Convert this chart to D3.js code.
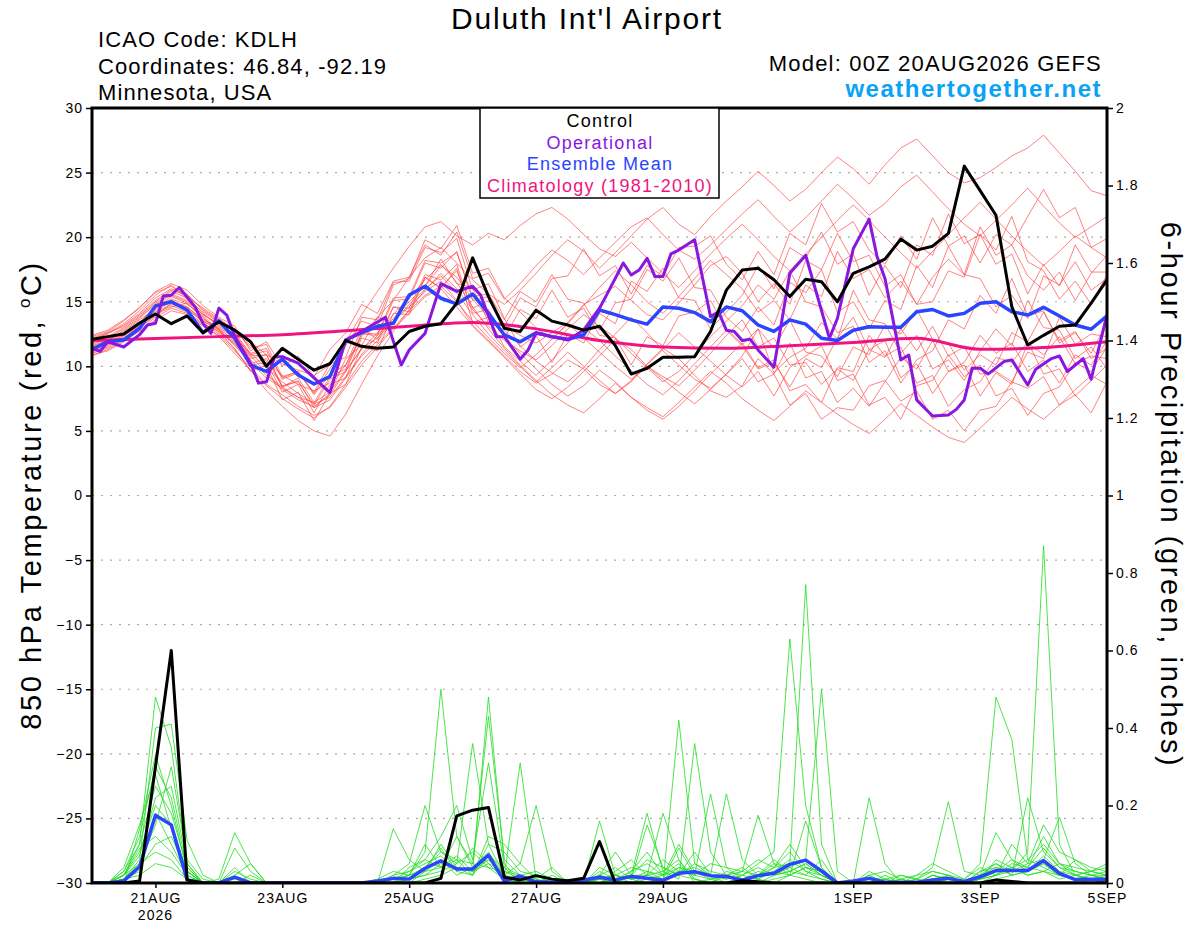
<!DOCTYPE html>
<meta charset="utf-8">
<script src="https://d3js.org/d3.v7.min.js"></script>
<style>
  body { margin: 0; background: #fff; }
  text { font-family: "Liberation Sans", Arial, Helvetica, sans-serif; }
</style>
<div id="chart"></div>
<script>

// ---- data (6-hourly steps from 00Z 20AUG2026 unless noted) ----
var stepHours = d3.range(0, 385, 6);

var controlTemp = [12.1,12.3,12.5,13.35,14.05,13.3,13.9,12.6,13.45,12.8,11.9,10.0,11.4,10.55,9.7,10.2,12.0,11.55,11.4,11.5,12.7,13.1,13.3,14.9,18.4,15.4,12.95,12.7,14.35,13.5,13.2,12.8,13.1,11.6,9.4,9.85,10.7,10.7,10.75,12.7,15.9,17.45,17.6,16.7,15.4,16.75,16.55,15.0,17.2,17.7,18.3,19.85,19.0,19.3,20.3,25.5,23.6,21.7,14.6,11.65,12.4,13.1,13.2,14.9,16.7];
var meanTemp = [11.3,11.9,12.04,12.95,14.67,15.0,14.36,12.6,13.53,12.17,10.1,9.6,10.55,9.33,8.63,9.2,12.04,12.6,13.1,13.33,15.52,16.2,15.27,14.83,15.6,14.1,12.43,11.9,12.6,12.3,12.1,12.43,14.36,14.0,13.6,13.27,14.6,14.5,14.16,13.46,14.6,14.3,13.2,12.7,13.6,13.27,12.17,12.0,12.8,13.07,13.02,13.02,14.23,14.4,13.9,14.1,14.88,15.0,14.23,13.97,14.57,13.9,13.2,12.87,13.9];

// operational run has its own output hours
var opHours = [0,3,6,12,18,21,24,27,30,33,39,42,45,48,51,54,60,63,66,69,72,78,84,90,96,102,111,117,120,126,132,138,144,147,153,156,162,165,168,174,180,186,192,195,201,204,207,210,213,216,219,222,228,234,237,240,243,246,249,252,258,264,270,279,282,288,294,297,300,306,309,312,318,324,327,330,333,336,339,345,348,354,357,363,366,369,375,378,384];
var opTemp = [11.4,11.15,11.9,11.5,12.45,13.2,13.33,15.45,15.5,16.1,14.6,13.33,12.55,14.5,13.97,12.3,10.24,8.7,8.8,10.75,10.75,10.24,9.1,7.97,12.04,12.7,13.8,10.1,11.27,12.55,16.4,15.8,16.2,15.52,12.3,12.3,10.55,11.27,12.55,12.3,12.04,12.8,14.5,15.65,18.0,17.07,17.46,18.36,16.95,16.95,18.7,19.0,19.8,13.85,14.23,12.8,12.7,12.0,12.1,11.27,9.93,17.2,18.6,12.17,13.7,19.1,21.4,18.5,16.8,10.5,10.88,7.4,6.16,6.23,6.67,7.4,9.85,9.85,9.4,10.37,10.5,8.55,9.77,10.6,10.8,9.6,10.6,9.0,14.0];

// climatology, one value per day
var climHours = [0,24,48,72,96,120,144,168,192,216,240,264,288,312,336,360,384];
var climTemp = [12.0,12.15,12.3,12.45,12.75,13.1,13.4,12.9,12.0,11.5,11.4,11.6,11.85,12.17,11.32,11.45,11.9];

var controlPrecip = [0,0,0,0.005,0.3,0.6,0.008,0,0,0,0,0,0,0,0,0,0,0,0,0,0,0,0.012,0.173,0.188,0.195,0.015,0.008,0.019,0.01,0.006,0.012,0.107,0,0,0,0,0,0,0,0,0.006,0.003,0,0,0,0,0,0,0,0,0,0,0,0,0,0,0.008,0.004,0,0,0,0,0,0];
var meanPrecip = [0,0,0.005,0.042,0.175,0.15,0.008,0,0,0.015,0,0,0,0,0,0,0,0,0.005,0.012,0.01,0.038,0.057,0.036,0.036,0.072,0.005,0.018,0.003,0.002,0,0.008,0.015,0.008,0.017,0.012,0.007,0.025,0.029,0.019,0.017,0.007,0.019,0.025,0.048,0.059,0.031,0,0.005,0.012,0.002,0.002,0.002,0.008,0.012,0.004,0.016,0.032,0.032,0.032,0.058,0.025,0.009,0.01,0.01];

// ensemble members, 850 hPa temperature
var tm01 = [11.8,12.2,12.9,13.8,14.9,15.6,15.1,14.0,13.2, 12.5,10.9,11.2,9.1,9.6,7.8,9.4,10.1, 12.9,12.1,14.6,14.2,16.9,16.1,17.4,14.5,15.1, 13.2,12.4,11.8,12.6,13.4,14.8,15.5,16.2,15.1,14.0,13.6,14.9,16.3,17.8,18.5, 17.2,15.0,16.4,14.8,18.2,17.5,20.3,18.1,18.6,16.2,17.1,14.8,15.0,17.4,16.9,20.2,19.0,21.6,18.1,17.4,15.2,16.6,14.8,17.1];
var tm02 = [11.2,11.6,12.4,13.1,14.2,14.8,14.4,13.5,12.9, 12.0,10.8,9.5,8.2,7.4,6.9,7.8,9.6, 11.4,12.2,13.5,14.6,15.8,16.6,15.1,13.2,12.0, 10.8,9.6,8.7,9.4,10.5,9.8,8.6,7.9,8.8,10.2,11.4,10.6,9.3,8.1,7.6, 8.5,10.6,9.4,11.8,9.1,9.6,7.2,8.3,6.9,8.8,10.7,9.8,12.0,9.6,10.1,7.7,9.5,8.6,11.8,10.9,12.3,10.2,10.8,10.6];
var tm03 = [12.4,12.8,13.6,14.5,15.8,16.4,15.9,14.7,13.8, 13.1,11.2,11.9,10.0,10.8,9.2,11.3,12.6, 14.8,14.1,16.6,16.9,19.4,18.6,20.4,16.8,17.2, 15.2,16.4,17.8,19.0,18.2,17.1,18.4,19.6,20.8,21.5,20.2,19.0,18.3,19.4,20.6, 21.8,22.9,21.6,20.4,21.5,22.8,24.1,23.0,21.7,22.6,23.9,24.8,23.5,22.2,21.0,20.1,21.3,22.5,23.8,22.4,21.1,20.0,20.8,21.6];
var tm04 = [10.8,11.3,12.0,12.7,13.6,14.3,14.0,13.1,12.4, 11.2,9.9,8.6,7.8,6.9,6.2,6.8,8.4, 10.1,11.5,12.9,14.1,15.4,16.0,14.6,13.1,11.9, 10.7,9.4,8.2,7.5,8.4,9.6,10.8,12.1,11.3,10.0,9.2,8.5,9.7,11.0,12.4, 13.6,11.5,12.2,10.1,10.3,8.6,9.8,8.9,11.3,10.7,12.9,11.2,13.1,10.8,11.5,9.4,9.6,8.8,11.1,10.6,13.8,11.7,12.5,12.3];
var tm05 = [11.5,12.0,12.6,13.4,14.6,15.2,14.8,13.9,12.8, 11.3,9.7,8.1,6.9,5.8,5.0,4.6,6.3, 8.6,10.8,12.7,14.4,15.9,17.2,16.0,14.4,13.1, 12.0,11.2,10.5,11.6,12.9,14.0,13.1,12.2,11.0,9.9,8.8,9.6,10.9,12.3,13.5, 14.7,16.3,15.2,17.4,15.0,14.6,12.6,13.1,10.3,11.2,8.7,10.5,11.2,13.6,12.9,15.5,14.1,16.8,13.9,14.3,11.8,12.6,11.0,13.4];
var tm06 = [12.1,12.5,13.2,14.1,15.3,16.0,15.6,14.3,13.5, 12.7,11.6,10.4,9.3,8.6,8.1,8.7,10.1, 12.3,13.8,15.1,16.9,18.4,19.2,18.0,16.7,15.6, 14.8,15.9,17.2,18.6,19.8,18.9,17.6,18.8,20.1,21.4,22.3,21.0,20.2,21.6,22.8, 23.9,25.1,24.0,22.8,23.7,25.0,26.2,25.3,24.1,25.6,26.9,27.6,26.3,25.0,24.2,24.6,25.4,26.3,26.9,27.9,26.5,25.1,23.6,23.2];
var tm07 = [11.0,11.4,12.1,13.0,14.0,14.6,14.9,13.8,12.6, 11.8,10.2,10.6,8.4,8.9,6.8,7.9,10.6, 11.6,13.8,13.4,15.6,16.2,18.3,16.4,16.1,13.4, 12.8,11.6,10.4,9.5,8.8,9.9,11.3,12.5,13.8,12.6,11.2,10.1,9.0,8.3,9.4, 10.8,12.9,11.4,13.6,11.1,10.8,9.2,11.5,10.9,13.2,12.5,14.4,12.1,11.8,9.7,10.9,10.1,12.6,11.9,14.2,12.0,12.7,10.6,11.4];
var tm08 = [11.7,12.1,12.7,13.6,14.4,15.1,14.6,13.6,13.0, 12.2,11.0,9.9,8.8,7.9,7.1,7.6,9.2, 10.9,12.4,13.7,15.0,16.2,17.8,16.9,15.2,13.8, 12.3,11.0,9.8,8.6,7.7,8.5,9.7,8.8,7.6,6.8,6.1,7.2,8.4,9.6,8.7, 7.5,6.6,5.8,6.9,8.1,7.2,6.3,5.5,4.8,5.9,7.1,6.2,5.3,4.5,4.1,5.2,6.4,7.6,6.7,5.9,7.0,8.2,9.3,8.6];
var tm09 = [12.0,12.6,13.3,14.3,15.5,16.3,15.2,14.2,13.4, 12.9,11.4,11.7,9.2,9.6,7.9,9.8,11.6, 13.5,13.1,16.3,16.8,19.8,19.1,20.9,17.2,17.6, 15.3,14.2,13.0,12.1,13.3,14.7,16.1,17.4,16.3,15.0,14.1,15.4,16.8,18.2,17.1, 16.0,14.2,15.1,13.6,16.3,15.4,18.9,16.8,17.5,15.3,16.6,14.8,16.9,18.3,17.1,20.8,18.6,19.4,17.0,15.9,17.3,15.1,17.2,18.6];
var tm10 = [11.4,11.9,12.5,13.3,14.1,14.7,14.2,13.3,12.7, 11.9,10.1,10.3,8.0,8.6,6.4,8.6,9.1, 12.2,11.8,14.6,14.5,17.1,16.7,17.9,14.1,14.4, 12.2,14.4,13.7,15.9,13.8,14.5,12.4,12.2,10.1,12.3,11.6,13.9,14.2,15.1,12.9, 11.7,12.9,9.5,10.7,11.4,13.4,12.1,15.9,13.6,13.3,11.0,12.4,9.8,10.5,8.9,11.2,12.9,11.6,15.1,13.0,12.8,10.6,11.5,9.8];
var tm11 = [12.3,12.7,13.5,14.6,15.7,16.2,15.4,14.5,13.7, 12.8,11.9,10.9,10.2,9.7,9.3,10.1,11.9, 14.0,15.8,17.6,19.3,20.8,21.2,20.1,19.4,20.3, 19.8,20.9,21.8,22.3,21.4,20.2,19.1,18.5,19.6,18.4,17.2,16.1,17.4,18.7,19.9, 21.0,19.8,18.5,17.4,18.7,20.0,21.3,22.5,21.3,20.0,18.8,17.6,18.9,20.2,21.5,22.7,21.4,20.1,18.9,17.8,18.9,20.1,19.2,18.4];
var tm12 = [11.1,11.5,12.3,13.2,14.3,15.0,14.5,13.4,12.5, 11.4,9.6,10.1,7.4,8.0,5.8,7.9,8.6, 11.5,11.2,14.1,14.0,16.9,16.0,17.6,13.4,13.8, 11.5,10.4,9.3,10.5,11.8,13.0,12.0,10.8,9.7,8.6,7.8,8.9,10.2,11.5,12.8, 11.6,9.8,10.3,8.4,10.6,9.9,12.2,13.8,11.3,12.0,9.1,10.2,7.9,9.6,10.3,12.4,11.0,11.8,9.6,10.5,8.7,10.9,10.1,12.0];
var tm13 = [11.9,12.3,13.0,13.9,15.0,15.8,15.3,14.1,13.1, 12.3,10.6,10.9,8.4,9.1,7.2,9.2,9.8, 12.6,12.5,15.3,15.4,18.2,18.0,18.8,15.4,15.6, 13.6,15.8,15.0,17.1,15.2,14.9,12.8,14.9,15.2,17.5,16.6,18.4,16.1,15.9,13.8, 12.7,14.6,13.2,16.5,15.7,17.5,14.2,15.0,12.9,15.1,14.4,17.8,16.1,19.3,17.1,16.8,14.6,15.5,13.7,17.0,16.3,18.1,15.9,16.8];
var tm14 = [11.3,11.8,12.4,13.2,14.5,15.4,14.9,13.7,12.9, 11.6,10.3,9.1,8.3,7.6,7.2,8.0,9.7, 11.3,12.6,14.0,15.3,16.7,17.9,16.5,14.6,12.9, 11.4,10.1,8.9,7.8,7.0,6.4,7.5,8.7,7.6,6.6,5.9,6.9,8.1,9.4,10.6, 11.8,9.9,10.5,8.1,8.6,7.2,9.9,9.6,12.4,10.8,11.5,8.7,9.3,6.9,8.2,8.8,10.7,10.3,11.9,9.4,9.8,7.7,8.9,10.1];
var tm15 = [12.2,12.6,13.1,14.0,15.1,15.9,15.5,14.4,13.6, 12.6,11.0,11.4,9.0,9.5,8.0,10.2,10.7, 13.8,13.6,16.5,16.6,19.2,18.8,19.9,15.9,16.4, 13.7,11.5,12.4,10.3,12.5,11.8,14.1,13.3,16.6,15.8,17.6,15.3,15.1,12.9,14.2, 15.5,17.8,16.0,19.2,18.4,20.4,17.9,18.7,15.5,17.8,16.1,19.4,18.6,21.8,19.5,20.2,17.9,18.7,15.6,17.9,16.2,19.4,17.3,17.3];
var tm16 = [10.9,11.2,11.9,12.8,13.8,14.5,14.1,13.2,12.3, 11.0,9.7,8.5,7.5,6.7,6.0,6.9,8.6, 10.4,11.7,13.0,14.3,15.5,16.2,15.0,13.5,12.2, 11.0,9.9,10.9,12.1,13.3,12.2,11.1,10.0,9.0,10.1,11.3,12.6,11.5,10.4,9.3, 8.4,9.6,7.7,9.9,10.8,11.6,8.9,9.4,7.0,7.6,5.9,8.5,8.9,10.9,9.2,10.1,7.7,8.3,6.2,7.9,8.4,10.3,9.6,11.5];
var tm17 = [11.6,12.0,12.8,13.7,14.8,15.5,15.0,14.0,13.3, 12.4,10.8,10.9,8.5,8.8,7.0,9.0,9.6, 12.5,12.4,15.1,15.2,18.0,17.6,18.9,15.1,15.4, 13.1,15.3,14.6,16.8,17.0,19.1,17.0,17.8,15.6,17.8,17.0,19.2,19.3,20.1,17.9, 16.7,18.9,17.1,20.3,19.4,22.6,20.4,21.2,19.0,17.9,20.1,18.3,21.5,19.3,20.1,18.0,20.2,19.4,21.6,23.7,21.5,22.3,19.2,19.9];
var tm18 = [11.3,11.7,12.2,13.0,13.9,14.9,14.6,13.5,12.8, 11.7,10.5,9.3,8.4,7.6,6.8,7.4,9.1, 10.8,12.0,13.4,14.8,16.0,17.0,15.7,14.0,12.5, 11.2,10.0,8.8,9.9,11.1,10.0,8.9,7.9,8.9,10.0,9.0,8.0,7.1,8.2,9.4, 10.6,8.8,9.4,7.0,7.9,5.9,6.8,6.6,8.5,8.9,7.3,8.1,5.9,6.6,5.0,6.6,6.9,8.8,8.3,9.2,7.0,7.8,6.4,8.8];

// ensemble members, 6-hour precipitation (inches)
var pm01 = [0,0,.02,.1,.48,.35,.05,0, 0,.04,0,0,0,0,0,0, 0,0,.01,.03,.02,.08,.5,.12, .04,.06,.02,0,0,.01,0,0, .02,0,.03,.08,.02,.05,.01,0, 0,.02,.05,.08,.63,.2,.04,0, 0,.02,0,0,.01,.03,.02,0, .02,.13,.06,.03,.05,.02,.01,0, .01];
var pm02 = [0,0,.01,.06,.4,.41,.11,.02, 0,0,0,0,0,0,0,0, 0,0,0,.14,.06,.03,.1,.04, .03,.48,.05,0,.02,0,0,0, 0,.01,0,.02,.18,.06,0,.01, .02,0,.01,.04,.05,.77,.1,0, 0,0,.01,0,0,0,.02,.01, .05,.48,.37,.06,.04,.02,.06,.03, .02];
var pm03 = [0,0,0,.14,.33,.2,.03,0, .01,.13,.05,0,0,0,0,0, 0,0,0,.02,.05,.2,.08,.05, .36,.1,.02,.31,.01,0,0,0, .16,.02,0,.01,0,.42,.05,.02, 0,.01,0,.02,.04,.06,.5,.03, 0,.22,.05,0,0,.02,.01,0, 0,.02,.03,.08,.87,.1,.02,.03, .04];
var pm04 = [0,0,.03,.1,.25,.18,.04,0, 0,.09,.03,0,0,0,0,0, 0,0,0,.01,.02,.1,.04,.12, .05,.43,.06,.02,0,0,.01,0, .02,.08,.02,.18,.03,.01,.36,.08, .02,.04,.01,0,.02,.04,.03,0, 0,.02,0,0,.01,.04,.21,.03, .02,.04,.03,.05,.06,.17,.05,.02, .02];
var pm05 = [0,0,.02,.08,.2,.15,.03,0, 0,.02,.05,0,0,0,0,0, 0,0,0,0,.04,.06,.12,.2, .06,.31,.04,0,0,.01,0,.01, 0,.03,.06,.02,.01,.09,.02,.23, .04,.01,.02,.03,.06,.03,.02,0, 0,.01,.01,0,0,.02,.01,0, .03,.05,.02,.22,.08,.04,.02,.01, 0];
var pm06 = [0,0,.01,.05,.15,.3,.06,.01, 0,0,0,0,0,0,0,0, 0,0,0,0,.01,.04,.08,.06, .02,.12,.1,.05,.2,.03,0,0, .01,.02,.01,.15,.04,.02,.08,.02, .23,.06,.02,.04,.1,.04,.02,0, 0,0,.01,.02,.01,0,.01,0, .01,.03,.06,.04,.12,.05,.04,.03, .05];
var pm07 = [0,0,.03,.12,.3,.22,.04,0, 0,.01,0,0,0,0,0,0, 0,0,0,.02,.03,.05,.07,.03, .09,.05,.03,.02,.01,.04,0,0, .03,.01,.02,.06,.04,.02,.05,.03, .02,.03,.175,.05,.02,.16,.04,0, 0,.01,0,0,.02,.05,.03,.01, .04,.02,.1,.05,.15,.08,.06,.04, .03];
var pm08 = [0,0,0,.04,.1,.12,.03,0, 0,0,0,0,0,0,0,0, 0,0,0,0,.02,.03,.06,.02, .04,.08,.02,.01,0,0,0,0, .01,.02,.04,.03,.02,.1,.03,.01, .02,.01,.03,.02,.03,.05,.02,0, 0,0,0,.01,0,.02,.01,0, .01,.06,.04,.02,.03,.01,.02,.03, .02];
var pm09 = [0,0,.02,.07,.22,.25,.05,0, 0,0,.02,0,0,0,0,0, 0,0,0,.01,.03,.06,.04,.07, .03,.06,.02,.05,.01,0,0,0, .02,.04,.01,.02,.06,.03,.02,.05, .04,.03,.06,.04,.08,.03,.01,0, 0,.02,.03,.01,0,.01,.02,0, .02,.03,.04,.06,.1,.05,.03,.02, .01];
var pm10 = [0,0,.01,.03,.18,.1,.02,0, 0,0,0,0,0,0,0,0, 0,0,0,0,.01,.02,.05,.04, .02,.1,.08,.03,.02,0,0,0, .04,.02,.01,.03,.01,.04,.02,.01, 0,.01,.02,.05,.04,.02,.06,0, 0,0,.02,0,0,0,.01,0, 0,.01,.02,.03,.05,.02,.01,.01, 0];
var pm11 = [0,0,.02,.09,.12,.08,.02,0, 0,0,0,0,0,0,0,0, 0,0,0,0,0,.03,.04,.06, .05,.04,.03,.01,0,.02,0,0, 0,.01,.02,.02,.03,.06,.01,0, .03,.02,.01,.03,.02,.04,.03,0, 0,.03,.01,0,0,.01,0,0, .01,.02,.05,.04,.03,.02,.01,.02, .03];
var pm12 = [0,0,.02,.05,.08,.06,.01,0, 0,0,0,0,0,0,0,0, 0,0,0,0,.01,.02,.03,.05, .08,.04,.01,0,0,0,0,0, .01,0,.02,.01,.02,.04,.03,.02, .01,.02,.04,.02,.03,.02,.01,0, 0,0,0,.02,.01,0,.01,0, .03,.04,.02,.03,.07,.03,.02,.01, .02];
var pm13 = [0,0,.04,.15,.28,.14,.03,0, 0,.03,.01,0,0,0,0,0, 0,0,0,.01,.02,.04,.09,.03, .02,.07,.04,.02,.03,.01,0,0, .02,.01,.03,.05,.02,.03,.04,.02, .01,.03,.02,.06,.03,.05,.02,0, 0,.01,0,.01,.02,.03,.02,0, .02,.05,.03,.04,.09,.04,.03,.02, .01];
var pm14 = [0,0,.01,.02,.05,.04,.01,0, 0,0,0,0,0,0,0,0, 0,0,0,0,0,.01,.02,.04, .03,.05,.01,0,0,0,0,0, 0,.02,.01,0,.01,.02,.01,0, .02,.01,0,.01,.02,.01,0,0, 0,0,0,0,0,.01,0,0, .01,.02,.04,.02,.03,.05,.02,.01, .01];

var tempMembers = [tm01,tm02,tm03,tm04,tm05,tm06,tm07,tm08,tm09,tm10,tm11,tm12,tm13,tm14,tm15,tm16,tm17,tm18];
var precipMembers = [pm01,pm02,pm03,pm04,pm05,pm06,pm07,pm08,pm09,pm10,pm11,pm12,pm13,pm14];

var tempTicks = [-30,-25,-20,-15,-10,-5,0,5,10,15,20,25,30];
var gridTicks = [-25,-20,-15,-10,-5,0,5,10,15,20,25];
var precipTicks = [0,0.2,0.4,0.6,0.8,1,1.2,1.4,1.6,1.8,2];
var dateTicks = ["2026-08-21","2026-08-23","2026-08-25","2026-08-27","2026-08-29","2026-09-01","2026-09-03","2026-09-05"];

var legendItems = [
  {label: "Control", color: "#000000"},
  {label: "Operational", color: "#8a17e0"},
  {label: "Ensemble Mean", color: "#2b45ff"},
  {label: "Climatology (1981-2010)", color: "#f01482"}
];

// ---- layout ----
var margin = {top: 108, right: 93, bottom: 44, left: 92},
    width = 1200 - margin.left - margin.right,
    height = 927 - margin.top - margin.bottom;

var svg = d3.select("#chart")
  .append("svg")
    .attr("width", 1200)
    .attr("height", 927);

var g = svg.append("g")
    .attr("transform", "translate(" + margin.left + "," + margin.top + ")");

var t0 = Date.UTC(2026, 7, 20, 0);
function hDate(h) { return new Date(t0 + h * 3600000); }

var x = d3.scaleUtc().domain([hDate(0), hDate(384)]).range([0, width]);
var yT = d3.scaleLinear().domain([-30, 30]).range([height, 0]);
var yP = d3.scaleLinear().domain([0, 2]).range([height, 0]);

g.append("clipPath").attr("id", "plotclip")
  .append("rect").attr("width", width).attr("height", height);

// dotted grid on the temperature ticks
g.selectAll(".grid")
  .data(gridTicks)
  .enter()
  .append("line")
    .attr("x1", 0).attr("x2", width)
    .attr("y1", function(d){ return yT(d) }).attr("y2", function(d){ return yT(d) })
    .attr("stroke", "#aaaaaa")
    .attr("stroke-width", 1.2)
    .attr("stroke-dasharray", "2,7");

function lineOn(yScale, hrs, curve) {
  var l = d3.line()
    .x(function(d, i){ return x(hDate(hrs[i])) })
    .y(function(d){ return yScale(d) });
  if (curve) l.curve(curve);
  return l;
}

var plot = g.append("g").attr("clip-path", "url(#plotclip)");

// member spaghetti
plot.selectAll(".tmember")
  .data(tempMembers)
  .enter()
  .append("path")
    .attr("d", lineOn(yT, stepHours))
    .attr("fill", "none")
    .attr("stroke", "#ff3b3b")
    .attr("stroke-opacity", 0.8)
    .attr("stroke-width", 0.8);

plot.selectAll(".pmember")
  .data(precipMembers)
  .enter()
  .append("path")
    .attr("d", lineOn(yP, stepHours))
    .attr("fill", "none")
    .attr("stroke", "#22dd22")
    .attr("stroke-width", 0.8);

// thick series
plot.append("path").datum(climTemp)
  .attr("d", lineOn(yT, climHours, d3.curveMonotoneX))
  .attr("fill", "none").attr("stroke", "#f01482").attr("stroke-width", 3);

plot.append("path").datum(meanTemp)
  .attr("d", lineOn(yT, stepHours))
  .attr("fill", "none").attr("stroke", "#2b45ff").attr("stroke-width", 3.5)
  .attr("stroke-linejoin", "round");

plot.append("path").datum(opTemp)
  .attr("d", lineOn(yT, opHours))
  .attr("fill", "none").attr("stroke", "#8a17e0").attr("stroke-width", 3)
  .attr("stroke-linejoin", "round");

plot.append("path").datum(controlTemp)
  .attr("d", lineOn(yT, stepHours))
  .attr("fill", "none").attr("stroke", "#000").attr("stroke-width", 3)
  .attr("stroke-linejoin", "round");

plot.append("path").datum(meanPrecip)
  .attr("d", lineOn(yP, stepHours))
  .attr("fill", "none").attr("stroke", "#2b45ff").attr("stroke-width", 3.5)
  .attr("stroke-linejoin", "round");

plot.append("path").datum(controlPrecip)
  .attr("d", lineOn(yP, stepHours))
  .attr("fill", "none").attr("stroke", "#000").attr("stroke-width", 3)
  .attr("stroke-linejoin", "round");

// axes
function styleAxis(sel) {
  sel.select(".domain").remove();
  sel.selectAll(".tick line").attr("stroke", "#000").attr("stroke-width", 1.5);
  sel.selectAll(".tick text")
    .attr("fill", "#000")
    .style("font-size", "14px")
    .style("letter-spacing", "1px")
    .style("font-family", "'Liberation Sans', Arial, sans-serif");
}

g.append("g")
  .call(d3.axisLeft(yT).tickValues(tempTicks).tickSize(6).tickPadding(3))
  .call(styleAxis);

g.append("g")
  .attr("transform", "translate(" + width + ",0)")
  .call(d3.axisRight(yP).tickValues(precipTicks).tickSize(6).tickPadding(3)
    .tickFormat(d3.format("~g")))
  .call(styleAxis);

var parseDay = d3.utcParse("%Y-%m-%d");
var dayFmt = d3.utcFormat("%-d%b");
g.append("g")
  .attr("transform", "translate(0," + height + ")")
  .call(d3.axisBottom(x).tickValues(dateTicks.map(parseDay)).tickSize(5).tickPadding(5)
    .tickFormat(function(d){ return dayFmt(d).toUpperCase() }))
  .call(styleAxis);

g.append("text")
  .attr("x", x(parseDay(dateTicks[0])))
  .attr("y", height + 37)
  .attr("text-anchor", "middle")
  .style("font-size", "14px")
  .style("letter-spacing", "1px")
  .text("2026");

// frame
g.append("rect")
  .attr("width", width).attr("height", height)
  .attr("fill", "none").attr("stroke", "#000").attr("stroke-width", 3);

// legend
var legend = svg.append("g").attr("transform", "translate(480,108)");
legend.append("rect")
  .attr("width", 239).attr("height", 90)
  .attr("fill", "#fff").attr("stroke", "#000").attr("stroke-width", 1.5);
legend.selectAll("text")
  .data(legendItems)
  .enter()
  .append("text")
    .attr("x", 120)
    .attr("y", function(d, i){ return 19 + i * 21.5 })
    .attr("text-anchor", "middle")
    .attr("fill", function(d){ return d.color })
    .style("font-size", "18px")
    .style("letter-spacing", "1.25px")
    .text(function(d){ return d.label });

// titles
svg.append("text")
  .attr("x", 587).attr("y", 29)
  .attr("text-anchor", "middle")
  .style("font-size", "30px")
  .style("letter-spacing", "1.8px")
  .text("Duluth Int'l Airport");

var info = ["ICAO Code: KDLH", "Coordinates: 46.84, -92.19", "Minnesota, USA"];
svg.selectAll(".info")
  .data(info)
  .enter()
  .append("text")
    .attr("x", 98)
    .attr("y", function(d, i){ return 47 + i * 26.5 })
    .style("font-size", "22px")
    .style("letter-spacing", "1.1px")
    .text(function(d){ return d });

svg.append("text")
  .attr("x", 1102).attr("y", 71)
  .attr("text-anchor", "end")
  .style("font-size", "22px")
  .style("letter-spacing", "1.2px")
  .text("Model: 00Z 20AUG2026 GEFS");

svg.append("text")
  .attr("x", 1102).attr("y", 97)
  .attr("text-anchor", "end")
  .attr("fill", "#0aa2f5")
  .style("font-size", "24px")
  .style("font-weight", "bold")
  .style("letter-spacing", "1.5px")
  .text("weathertogether.net");

// axis titles
var leftTitle = svg.append("text")
  .attr("transform", "translate(41,495) rotate(-90)")
  .attr("text-anchor", "middle")
  .style("font-size", "29px")
  .style("letter-spacing", "2.6px");
leftTitle.append("tspan").text("850 hPa Temperature (red, ");
leftTitle.append("tspan").attr("dy", -11).style("font-size", "17px").text("o");
leftTitle.append("tspan").attr("dy", 11).text("C)");

svg.append("text")
  .attr("transform", "translate(1161,495) rotate(90)")
  .attr("text-anchor", "middle")
  .style("font-size", "29px")
  .style("letter-spacing", "2.6px")
  .text("6-hour Precipitation (green, inches)");

</script>
